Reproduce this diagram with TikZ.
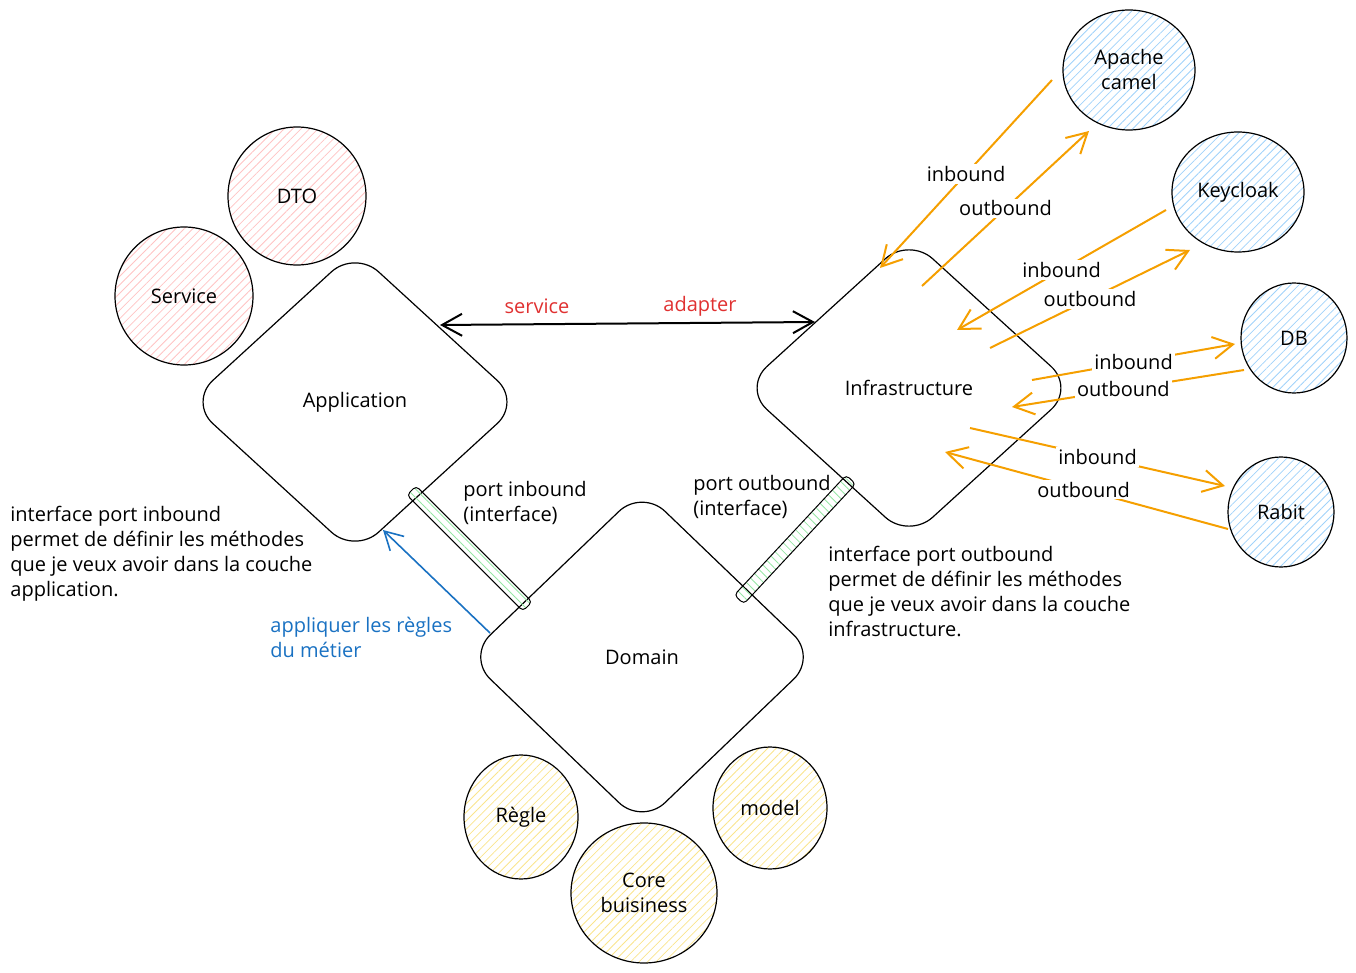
\documentclass[tikz,border=0pt]{standalone}
\usepackage{fontspec}
\setmainfont{Open Sans}
\usetikzlibrary{arrows.meta,shapes.geometric,patterns.meta}
\definecolor{orangeA}{RGB}{245,159,0}
\definecolor{blueA}{RGB}{25,113,194}
\definecolor{redA}{RGB}{224,49,49}
\definecolor{hatchRed}{RGB}{255,195,195}
\definecolor{hatchBlue}{RGB}{160,210,250}
\definecolor{hatchYellow}{RGB}{250,228,140}
\definecolor{hatchGreen}{RGB}{150,230,165}
\begin{document}
\begin{tikzpicture}[x=0.5pt,y=-0.5pt, font=\fontsize{10}{12.5}\selectfont,
  layer/.style={diamond, draw, line width=0.6pt, rounded corners=16pt, inner sep=0pt},
  ent/.style={ellipse, draw, line width=0.6pt, inner sep=0pt, align=center},
  hatch/.style={pattern={Lines[angle=45,distance=3pt,line width=0.4pt]}, pattern color=#1},
  hatchb/.style={pattern={Lines[angle=-45,distance=3pt,line width=0.4pt]}, pattern color=#1},
  port/.style={rectangle, draw, rounded corners=2pt, line width=0.5pt, minimum height=6.5pt, inner sep=0pt},
  lbl/.style={fill=white, inner sep=1pt},
  io/.style={draw=orangeA, line width=1pt, -{Straight Barb[length=10pt,width=11pt]}},
  note/.style={align=left, anchor=north west, inner sep=0pt},
]
\useasboundingbox (0,0) rectangle (1356,973);

% circles
\node[ent, hatch=hatchRed, minimum width=69pt, minimum height=69pt] (dto) at (297,196) {DTO};
\node[ent, hatch=hatchRed, minimum width=69pt, minimum height=69pt] (svc) at (184,296) {Service};
\node[ent, hatch=hatchBlue, minimum width=66pt, minimum height=60pt] (camel) at (1129,70) {Apache\\camel};
\node[ent, hatch=hatchBlue, minimum width=66pt, minimum height=60pt] (kc) at (1238,192) {Keycloak};
\node[ent, hatch=hatchBlue, minimum width=53pt, minimum height=55pt] (db) at (1294,338) {DB};
\node[ent, hatch=hatchBlue, minimum width=53pt, minimum height=55pt] (rabit) at (1281,512) {Rabit};
\node[ent, hatch=hatchYellow, minimum width=57pt, minimum height=62pt] (regle) at (521,817) {Règle};
\node[ent, hatch=hatchYellow, minimum width=73pt, minimum height=70pt] (core) at (644,893) {Core\\buisiness};
\node[ent, hatch=hatchYellow, minimum width=57pt, minimum height=61pt] (model) at (770,808) {model};

% layers
\node[layer, minimum width=166pt, minimum height=152pt] (app) at (355,402) {Application};
\node[layer, minimum width=166pt, minimum height=151pt] (infra) at (909,388) {Infrastructure};
\node[layer, minimum width=175pt, minimum height=168pt] (dom) at (642,657) {Domain};

% ports
\node[port, hatchb=hatchGreen, minimum width=82pt, rotate=-45] (pin) at (469.5,548.5) {};
\node[port, hatchb=hatchGreen, minimum width=82pt, rotate=47] (pout) at (795,539.5) {};

% service / adapter arrow
\coordinate (sa1) at (440,325);
\coordinate (sa2) at (815,322);
\draw[line width=1pt, {Straight Barb[length=10pt,width=11pt]}-{Straight Barb[length=10pt,width=11pt]}] (sa1) -- (sa2);
\node[text=redA] (tsvc) at (537,306) {service};
\node[text=redA] (tadp) at (700,306) {adapter};

% blue arrow
\coordinate (b1) at (490,633);
\coordinate (b2) at (383,530);
\draw[blueA, line width=0.8pt, -{Straight Barb[length=9pt,width=10pt]}] (b1) -- (b2);
\node[note, text=blueA] (tblue) at (270,617) {appliquer les règles\\du métier};

% notes
\node[note] (tpin) at (463,481) {port inbound\\(interface)};
\node[note] (tpout) at (693,475) {port outbound\\(interface)};
\node[note] (nin) at (10,506) {interface port inbound\\permet de définir les méthodes\\que je veux avoir dans la couche\\application.};
\node[note] (nout) at (828,546) {interface port outbound\\permet de définir les méthodes\\que je veux avoir dans la couche\\infrastructure.};

% orange in/out arrows
\coordinate (a1s) at (1052,80);  \coordinate (a1e) at (880,268);
\coordinate (a2s) at (922,286);  \coordinate (a2e) at (1089,131);
\coordinate (a3s) at (1166,210); \coordinate (a3e) at (957,330);
\coordinate (a4s) at (990,348);  \coordinate (a4e) at (1190,250);
\coordinate (a5s) at (1032,380); \coordinate (a5e) at (1235,344);
\coordinate (a6s) at (1244,370); \coordinate (a6e) at (1012,407);
\coordinate (a7s) at (970,428);  \coordinate (a7e) at (1225,486);
\coordinate (a8s) at (1228,529); \coordinate (a8e) at (945,452);
\draw[io] (a1s) -- node[lbl] (l1) {inbound} (a1e);
\draw[io] (a2s) -- node[lbl] (l2) {outbound} (a2e);
\draw[io] (a3s) -- node[lbl] (l3) {inbound} (a3e);
\draw[io] (a4s) -- node[lbl] (l4) {outbound} (a4e);
\draw[io] (a5s) -- node[lbl, pos=0.5] (l5) {inbound} (a5e);
\draw[io] (a6s) -- node[lbl, pos=0.52] (l6) {outbound} (a6e);
\draw[io] (a7s) -- node[lbl] (l7) {inbound} (a7e);
\draw[io] (a8s) -- node[lbl, pos=0.51] (l8) {outbound} (a8e);
\end{tikzpicture}
\end{document}
